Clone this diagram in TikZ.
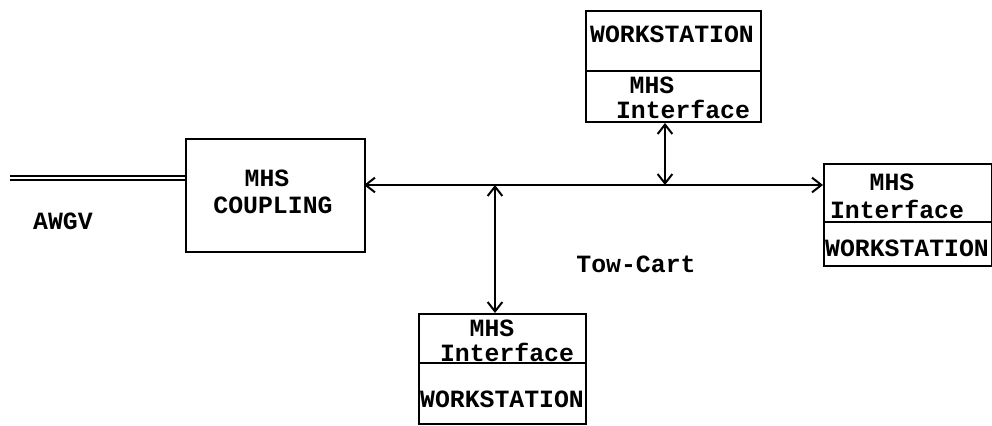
\documentclass[tikz,border=0pt]{standalone}
\usepackage{fontspec}
\setmonofont{Liberation Mono}
\usetikzlibrary{arrows.meta}
\begin{document}
\begin{tikzpicture}[x=0.75pt,y=-0.75pt,
  box/.style={draw,line width=1.5pt,rectangle,inner sep=0pt,anchor=north west},
  lbl/.style={font=\ttfamily\bfseries\fontsize{18.6}{20}\selectfont,inner sep=0pt},
  conn/.style={line width=1.6pt},
  tips/.style={{Straight Barb[length=7pt,width=11pt,line width=1.5pt]}-{Straight Barb[length=7pt,width=11pt,line width=1.5pt]}}]
\useasboundingbox (0,0) rectangle (992,425);
% MHS coupling
\node[box,minimum width=134.25pt,minimum height=84.75pt] (coup) at (185,138) {};
\node[lbl] (coupA) at (267,178) {MHS};
\node[lbl] (coupB) at (273,205) {COUPLING};
% AWGV
\coordinate (awgvend) at (10,178);
\draw[line width=1.5pt,double,double distance=1.3pt] (awgvend) -- (awgvend -| coup.west);
\node[lbl] (awgv) at (63,221) {AWGV};
% top workstation
\node[box,minimum width=131.25pt,minimum height=45pt] (tws) at (585,10) {};
\node[box,minimum width=131.25pt,minimum height=38.25pt] (tif) at (585,70) {};
\node[lbl] (twsT) at (672,34) {WORKSTATION};
\node[lbl] (tifA) at (652,85) {MHS};
\node[lbl] (tifB) at (683,109) {Interface};
% right workstation
\node[box,minimum width=126pt,minimum height=43.5pt] (rif) at (823,163) {};
\node[box,minimum width=126pt,minimum height=33pt] (rws) at (823,221) {};
\node[lbl] (rifA) at (892,182) {MHS};
\node[lbl] (rifB) at (897,209) {Interface};
\node[lbl] (rwsT) at (907,248) {WORKSTATION};
% bottom workstation
\node[box,minimum width=125.25pt,minimum height=36.75pt] (bif) at (418,313) {};
\node[box,minimum width=125.25pt,minimum height=45.75pt] (bws) at (418,362) {};
\node[lbl] (bifA) at (492,328) {MHS};
\node[lbl] (bifB) at (507,352) {Interface};
\node[lbl] (bwsT) at (502,399) {WORKSTATION};
% Tow-Cart
\node[lbl] (tow) at (636,264) {Tow-Cart};
% bus
\coordinate (busL) at (364,185);
\coordinate (busR) at (823,185);
\draw[conn,tips] (busL) -- (busR);
\coordinate (tj) at (665,185);
\coordinate (bj) at (495,185);
\draw[conn,tips] (tif.south -| tj) -- (tj);
\draw[conn,tips] (bj) -- (bif.north -| bj);
\end{tikzpicture}
\end{document}
